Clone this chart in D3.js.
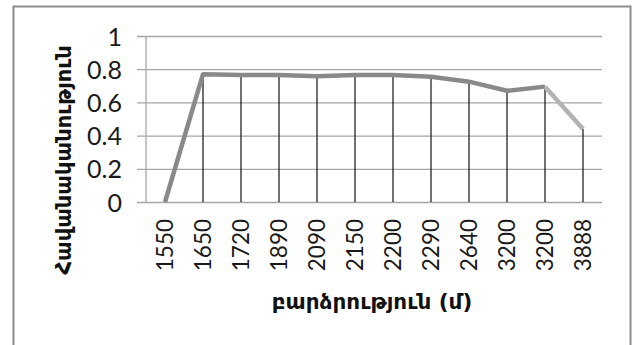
<!DOCTYPE html>
<html>
<head>
<meta charset="utf-8">
<script src="https://cdnjs.cloudflare.com/ajax/libs/d3/7.8.5/d3.min.js"></script>
<style>
  html, body { margin: 0; padding: 0; background: #fff; }
  svg { display: block; }
</style>
</head>
<body>
<svg id="chart" width="637" height="345"></svg>
<script>
// Altitude categories (m) and probability at each altitude
const altitudes = ["1550", "1650", "1720", "1890", "2090", "2150", "2200", "2290", "2640", "3200", "3200", "3888"];
const probability = [0, 0.77, 0.765, 0.765, 0.758, 0.765, 0.765, 0.755, 0.725, 0.67, 0.695, 0.44];
const yTicks = [0, 0.2, 0.4, 0.6, 0.8, 1];
const xTitle = "բարձրություն (մ)";
const yTitle = "Հավանականություն";

const svg = d3.select("#chart");
const plot = { left: 146, right: 602, top: 36, bottom: 202 };

// Outer chart frame
svg.append("rect")
  .attr("x", 13.5).attr("y", 6.5)
  .attr("width", 617).attr("height", 360)
  .attr("fill", "#fff")
  .attr("stroke", "#8c8c8c")
  .attr("stroke-width", 2);

const x = d3.scaleBand()
  .domain(d3.range(altitudes.length))
  .range([plot.left, plot.right])
  .paddingInner(0).paddingOuter(0);

const y = d3.scaleLinear().domain([0, 1]).range([plot.bottom, plot.top]);

const cx = i => x(i) + x.bandwidth() / 2;

// Horizontal gridlines with short outside ticks
const yAxis = d3.axisLeft(y)
  .tickValues(yTicks)
  .tickFormat(d => d === 0 || d === 1 ? String(d) : d3.format(".1f")(d))
  .tickSizeInner(-(plot.right - plot.left))
  .tickSizeOuter(0)
  .tickPadding(0);

const gy = svg.append("g")
  .attr("transform", `translate(${plot.left},0)`)
  .call(yAxis);
gy.select(".domain").remove();
gy.selectAll(".tick line")
  .attr("x1", -9)
  .attr("stroke", "#a6a6a6")
  .attr("stroke-width", 1.3);
gy.selectAll(".tick text")
  .attr("x", -24)
  .attr("dy", "0.36em")
  .attr("fill", "#1a1a1a")
  .style("font-family", "Lato, 'Open Sans', sans-serif")
  .style("font-size", "25px");

// Vertical axis line
svg.append("line")
  .attr("x1", plot.left).attr("x2", plot.left)
  .attr("y1", plot.top).attr("y2", plot.bottom)
  .attr("stroke", "#a6a6a6").attr("stroke-width", 1.3);

// Category labels along the bottom, rotated
const xAxis = d3.axisBottom(x)
  .tickFormat(i => altitudes[i])
  .tickSize(0)
  .tickPadding(0);
const gx = svg.append("g")
  .attr("transform", `translate(0,${plot.bottom})`)
  .call(xAxis);
gx.select(".domain").remove();
gx.selectAll(".tick text")
  .attr("transform", "rotate(-90)")
  .attr("x", -17)
  .attr("y", 0)
  .attr("dy", "0.36em")
  .attr("text-anchor", "end")
  .attr("fill", "#1a1a1a")
  .style("font-family", "Lato, 'Open Sans', sans-serif")
  .style("font-size", "22.5px");

// Drop lines from each point to the baseline
svg.append("g")
  .selectAll("line")
  .data(probability)
  .join("line")
  .attr("x1", (d, i) => cx(i)).attr("x2", (d, i) => cx(i))
  .attr("y1", d => y(d)).attr("y2", y(0))
  .attr("stroke", "#111")
  .attr("stroke-width", 1.2);

// Series line
const pts = probability.map((v, i) => ({ v, i }));
const lineIdx = d3.line().x(p => cx(p.i)).y(p => y(p.v));

svg.append("path")
  .attr("d", lineIdx(pts.slice(0, pts.length - 1)))
  .attr("fill", "none")
  .attr("stroke", "#898989")
  .attr("stroke-width", 4.5)
  .attr("stroke-linejoin", "round");

// Final segment drawn in a lighter grey
svg.append("path")
  .attr("d", lineIdx(pts.slice(pts.length - 2)))
  .attr("fill", "none")
  .attr("stroke", "#b3b3b3")
  .attr("stroke-width", 4.5)
  .attr("stroke-linejoin", "round");

// Axis titles
svg.append("text")
  .attr("x", 372).attr("y", 301)
  .attr("dy", "0.35em")
  .attr("text-anchor", "middle")
  .attr("fill", "#111")
  .style("font-family", "'DejaVu Sans', sans-serif")
  .style("font-weight", "bold")
  .style("font-size", "21.5px")
  .text(xTitle);

svg.append("text")
  .attr("transform", "translate(64,160) rotate(-90)")
  .attr("dy", "0.35em")
  .attr("text-anchor", "middle")
  .attr("fill", "#111")
  .style("font-family", "'DejaVu Sans', sans-serif")
  .style("font-weight", "bold")
  .style("font-size", "21px")
  .text(yTitle);
</script>
</body>
</html>
